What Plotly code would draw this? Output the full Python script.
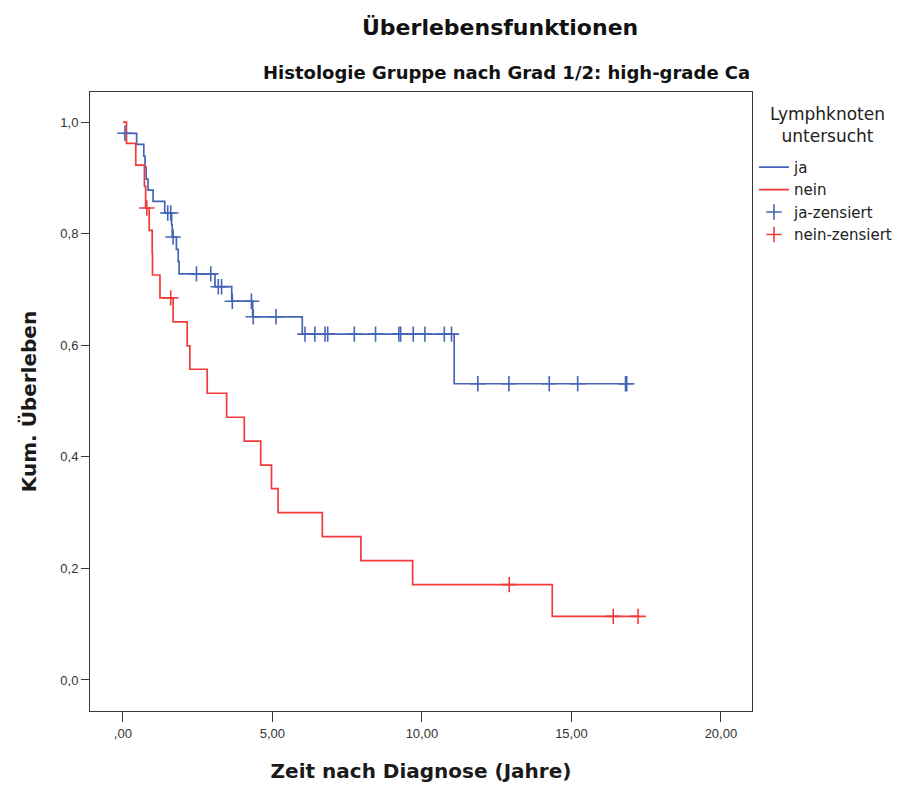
import plotly.graph_objects as go

# ---------------- data ----------------
# Kaplan-Meier step points: time (years) and survival level after the step
ja_t = [0.0, 0.46, 0.70, 0.74, 0.78, 0.84, 1.01, 1.40, 1.63, 1.65, 1.79, 1.85, 1.88,
        3.08, 3.64, 4.34, 6.00, 11.08, 16.85]
ja_s = [0.980, 0.960, 0.939, 0.919, 0.898, 0.878, 0.858, 0.837, 0.816, 0.794, 0.772,
        0.750, 0.728, 0.705, 0.679, 0.651, 0.620, 0.531, 0.531]
ja_cens_t = [0.07, 1.50, 1.60, 1.68, 2.46, 2.94, 3.19, 3.30, 3.66, 4.30, 4.36, 5.12,
             6.09, 6.42, 6.76, 6.85, 7.74, 8.45, 9.23, 9.29, 9.71, 10.10, 10.75, 10.99,
             11.87, 12.91, 14.26, 15.21, 16.81, 16.85]

nein_t = [0.0, 0.12, 0.43, 0.72, 0.76, 0.88, 0.98, 0.99, 1.24, 1.68, 2.15, 2.24, 2.82,
          3.47, 4.06, 4.61, 4.97, 5.19, 6.67, 7.96, 9.69, 14.36, 17.23]
nein_s = [1.000, 0.962, 0.923, 0.885, 0.846, 0.806, 0.766, 0.726, 0.685, 0.642, 0.599,
          0.557, 0.514, 0.471, 0.428, 0.385, 0.343, 0.300, 0.257, 0.214, 0.171, 0.114, 0.114]
nein_cens_t = [0.80, 1.60, 12.92, 16.40, 17.23]

x_tickvals = [0, 5, 10, 15, 20]
x_ticktext = [",00", "5,00", "10,00", "15,00", "20,00"]
y_tickvals = [0.0, 0.2, 0.4, 0.6, 0.8, 1.0]
y_ticktext = ["0,0", "0,2", "0,4", "0,6", "0,8", "1,0"]

series_names = ["ja", "nein", "ja-zensiert", "nein-zensiert"]


def level_at(ts, ss, t):
    """Survival level of a step function at time t."""
    val = ss[0]
    for ti, si in zip(ts, ss):
        if ti <= t:
            val = si
        else:
            break
    return val


ja_cens_s = [level_at(ja_t, ja_s, t) for t in ja_cens_t]
nein_cens_s = [level_at(nein_t, nein_s, t) for t in nein_cens_t]

BLUE = "#4664b6"
RED = "#f23a3a"
TICKFONT = "Liberation Sans, Arial, sans-serif"
FONT = "DejaVu Sans, Verdana, sans-serif"

fig = go.Figure()
fig.add_trace(go.Scatter(x=ja_t, y=ja_s, mode="lines", line_shape="hv",
                         line=dict(color=BLUE, width=1.7), name=series_names[0]))
fig.add_trace(go.Scatter(x=nein_t, y=nein_s, mode="lines", line_shape="hv",
                         line=dict(color=RED, width=1.7), name=series_names[1]))
fig.add_trace(go.Scatter(x=ja_cens_t, y=ja_cens_s, mode="markers",
                         marker=dict(symbol="cross-thin", size=11,
                                     line=dict(color=BLUE, width=1.6)),
                         name=series_names[2]))
fig.add_trace(go.Scatter(x=nein_cens_t, y=nein_cens_s, mode="markers",
                         marker=dict(symbol="cross-thin", size=11,
                                     line=dict(color=RED, width=1.6)),
                         name=series_names[3]))

axis_common = dict(showline=True, linecolor="#3a3a3a", linewidth=1, mirror=True,
                   showgrid=False, zeroline=False, ticks="outside",
                   tickcolor="#3a3a3a", tickfont=dict(family=TICKFONT, size=13, color="#333333"))

fig.update_xaxes(range=[-1.10, 21.04], tickvals=x_tickvals, ticktext=x_ticktext, ticklen=10,
                 title=dict(text="<b>Zeit nach Diagnose (Jahre)</b>",
                            font=dict(family=FONT, size=20, color="#1a1a1a"), standoff=24),
                 **axis_common)
fig.update_yaxes(range=[-0.0556, 1.054], tickvals=y_tickvals, ticktext=y_ticktext, ticklen=8,
                 title=dict(text="<b>Kum. Überleben</b>",
                            font=dict(family=FONT, size=20, color="#1a1a1a"), standoff=18),
                 **axis_common)

fig.update_layout(
    width=901, height=787,
    margin=dict(l=90, r=149, t=92, b=76, autoexpand=False),
    paper_bgcolor="white", plot_bgcolor="white",
    font=dict(family=FONT, size=13, color="#222222"),
    showlegend=True,
    legend=dict(x=1.003, xanchor="left", y=0.905, yanchor="top",
                bgcolor="rgba(0,0,0,0)", borderwidth=0,
                font=dict(family=FONT, size=15, color="#222222"),
                itemwidth=30, tracegroupgap=0),
    annotations=[
        dict(text="<b>Überlebensfunktionen</b>", xref="paper", yref="paper",
             x=(500 - 90) / 662, y=1 + (92 - 28) / 619, xanchor="center", yanchor="middle",
             showarrow=False, font=dict(family=FONT, size=22, color="#111111")),
        dict(text="<b>Histologie Gruppe nach Grad 1/2: high-grade Ca</b>",
             xref="paper", yref="paper", x=1.0, y=1 + (92 - 73) / 619,
             xanchor="right", yanchor="middle",
             showarrow=False, font=dict(family=FONT, size=18, color="#111111")),
        dict(text="Lymphknoten<br>untersucht", xref="paper", yref="paper",
             x=1.0, xshift=75, y=(711 - 125) / 619, xanchor="center", yanchor="middle",
             showarrow=False, align="center",
             font=dict(family=FONT, size=17, color="#222222")),
    ],
)

fig.write_html("out.html")
